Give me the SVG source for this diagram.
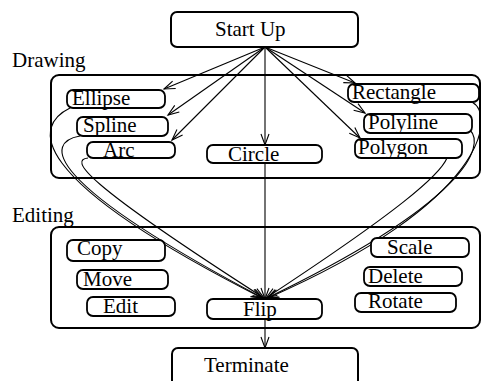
<svg xmlns="http://www.w3.org/2000/svg" width="481" height="381" viewBox="0 0 481 381">
<style>
.box{fill:#fff;stroke:#000;stroke-width:2}
.cont{fill:none;stroke:#000;stroke-width:2}
.n{fill:#fff;stroke:#000;stroke-width:1.8}
text{font-family:'Liberation Serif','Tinos','Times New Roman','Nimbus Roman','DejaVu Serif',serif;font-size:21px;fill:#000}
.e{fill:none;stroke:#000;stroke-width:1.1}
</style>
<defs>
<marker id="a" markerUnits="userSpaceOnUse" markerWidth="14" markerHeight="12" viewBox="-12 -6 14 12" refX="0" refY="0" orient="auto">
<path d="M-11,-4 L0,0 L-11,4" fill="none" stroke="#000" stroke-width="1.1"/>
</marker>
</defs>
<g id="drawing-group">
<rect class="cont" x="51" y="75" width="429" height="103" rx="8"/>
<text x="12" y="67">Drawing</text>
</g>
<g id="editing-group">
<rect class="cont" x="51" y="227" width="429" height="101" rx="8"/>
<text x="12" y="222">Editing</text>
</g>
<g id="edges">
<path class="e" d="M265,47 L164,89" marker-end="url(#a)"/>
<path class="e" d="M265,47 L168,115" marker-end="url(#a)"/>
<path class="e" d="M265,47 L172,140" marker-end="url(#a)"/>
<path class="e" d="M265,47 L265,145" marker-end="url(#a)"/>
<path class="e" d="M265,47 L355,83" marker-end="url(#a)"/>
<path class="e" d="M265,47 L365,113" marker-end="url(#a)"/>
<path class="e" d="M265,47 L360,138" marker-end="url(#a)"/>
<path class="e" d="M265,163 L265,299" marker-end="url(#a)"/>
<path class="e" d="M70,108 C35,125 20,175 262,298" marker-end="url(#a)"/>
<path class="e" d="M80,136 C45,142 40,180 263,298" marker-end="url(#a)"/>
<path class="e" d="M88,158 C70,160 80,180 264,298" marker-end="url(#a)"/>
<path class="e" d="M472,102 C495,115 490,200 268,298" marker-end="url(#a)"/>
<path class="e" d="M470,130 C485,145 470,200 267,298" marker-end="url(#a)"/>
<path class="e" d="M447,158 C440,175 400,210 266,298" marker-end="url(#a)"/>
<path class="e" d="M265,319 L265,348" marker-end="url(#a)"/>
</g>
<g id="start-up"><rect class="box" x="171" y="12" width="187" height="35" rx="6"/><text x="215" y="36">Start Up</text></g>
<g id="ellipse"><rect class="n" x="67" y="90" width="98" height="18" rx="6"/><text x="72" y="105">Ellipse</text></g>
<g id="spline"><rect class="n" x="77" y="117" width="91" height="19" rx="6"/><text x="83" y="132">Spline</text></g>
<g id="arc"><rect class="n" x="87" y="142" width="88" height="16" rx="6"/><text x="103" y="157">Arc</text></g>
<g id="circle"><rect class="n" x="207" y="145" width="115" height="18" rx="6"/><text x="228" y="161">Circle</text></g>
<g id="rectangle"><rect class="n" x="348" y="84" width="131" height="18" rx="6"/><text x="352" y="99">Rectangle</text></g>
<g id="polyline"><rect class="n" x="364" y="114" width="108" height="19" rx="6"/><text x="368" y="129">Polyline</text></g>
<g id="polygon"><rect class="n" x="355" y="139" width="107" height="19" rx="6"/><text x="358" y="154">Polygon</text></g>
<g id="copy"><rect class="n" x="67" y="240" width="98" height="21" rx="6"/><text x="77" y="255">Copy</text></g>
<g id="move"><rect class="n" x="77" y="270" width="91" height="19" rx="6"/><text x="83" y="286">Move</text></g>
<g id="edit"><rect class="n" x="87" y="297" width="88" height="19" rx="6"/><text x="103" y="313">Edit</text></g>
<g id="flip"><rect class="n" x="207" y="299" width="115" height="20" rx="6"/><text x="243" y="316">Flip</text></g>
<g id="scale"><rect class="n" x="371" y="238" width="98" height="19" rx="6"/><text x="387" y="254">Scale</text></g>
<g id="delete"><rect class="n" x="364" y="267" width="98" height="19" rx="6"/><text x="368" y="283">Delete</text></g>
<g id="rotate"><rect class="n" x="355" y="293" width="101" height="19" rx="6"/><text x="368" y="308">Rotate</text></g>
<g id="terminate"><rect class="box" x="172" y="348" width="186" height="40" rx="6"/><text x="204" y="372">Terminate</text></g>
</svg>
